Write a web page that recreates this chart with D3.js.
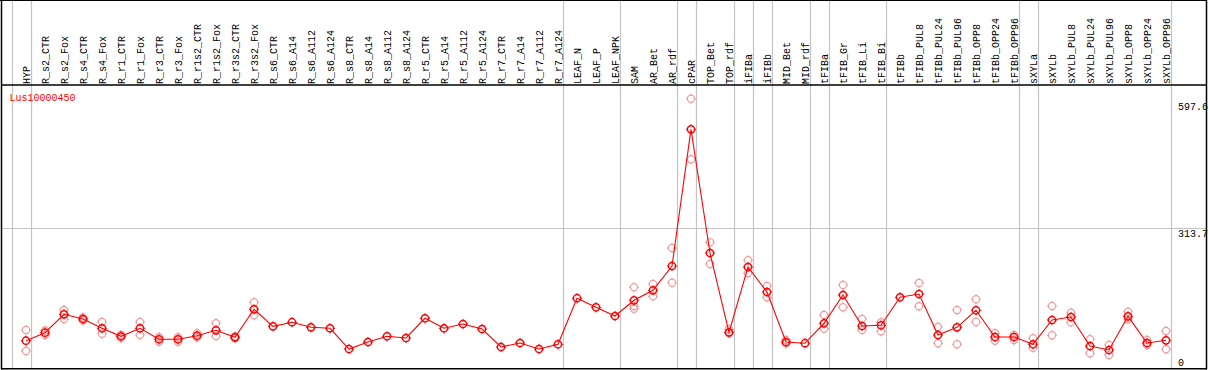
<!DOCTYPE html>
<html>
<head>
<meta charset="utf-8">
<script src="https://cdn.jsdelivr.net/npm/d3@7"></script>
<style>
  html, body { margin: 0; padding: 0; background: #fff; }
  svg { display: block; }
  text { font-family: "Liberation Mono", "DejaVu Sans Mono", monospace; font-size: 10px; }
</style>
</head>
<body>
<svg id="chart" width="1209" height="370"></svg>
<script>
const title = "Lus10000450";
const categories = ["HYP","R_s2_CTR","R_s2_Fox","R_s4_CTR","R_s4_Fox","R_r1_CTR","R_r1_Fox","R_r3_CTR","R_r3_Fox",
  "R_r1s2_CTR","R_r1s2_Fox","R_r3s2_CTR","R_r3s2_Fox","R_s6_CTR","R_s6_A14","R_s6_A112","R_s6_A124",
  "R_s8_CTR","R_s8_A14","R_s8_A112","R_s8_A124","R_r5_CTR","R_r5_A14","R_r5_A112","R_r5_A124",
  "R_r7_CTR","R_r7_A14","R_r7_A112","R_r7_A124","LEAF_N","LEAF_P","LEAF_NPK","SAM","AR_Bet","AR_rdf",
  "cPAR","TOP_Bet","TOP_rdf","iFIBa","iFIBb","MID_Bet","MID_rdf","tFIBa","tFIB_Gr","tFIB_Li","tFIB_Bi",
  "tFIBb","tFIBb_PUL8","tFIBb_PUL24","tFIBb_PUL96","tFIBb_OPP8","tFIBb_OPP24","tFIBb_OPP96",
  "sXYLa","sXYLb","sXYLb_PUL8","sXYLb_PUL24","sXYLb_PUL96","sXYLb_OPP8","sXYLb_OPP24","sXYLb_OPP96"];
const means = [62.2,80.1,121.3,110.8,90.0,72.1,90.0,65.4,65.4,73.4,85.5,69.8,132.5,94.4,103.6,92.2,90.0,
  43.6,59.3,72.1,68.3,112.4,90.0,99.6,88.4,48.1,57.1,43.6,54.2,157.3,137.0,117.5,152.6,175.0,229.4,
  535.3,258.5,81.0,227.2,171.2,59.3,56.6,101.2,164.5,95.1,96.7,159.4,166.7,75.0,92.2,130.3,70.5,70.5,
  54.2,108.5,115.3,50.4,41.4,116.8,57.1,63.1];
const rep1 = [86.2,85.0,130.9,114.1,104.1,75.0,104.1,70.5,69.8,78.8,101.2,72.1,148.2,null,null,null,null,
  null,null,null,null,null,null,null,null,null,null,null,null,null,null,null,181.7,189.1,269.7,
  603.8,282.4,87.7,242.2,184.6,63.8,null,119.7,186.9,110.8,103.4,null,191.4,92.9,130.9,154.9,78.8,75.0,
  67.6,139.9,124.9,65.4,52.6,127.1,63.8,83.9];
const rep2 = [39.2,75.0,110.8,107.4,77.9,68.3,75.0,60.0,60.0,69.4,72.7,67.6,119.1,null,null,null,null,
  null,null,null,null,null,null,null,null,null,null,null,null,null,null,null,139.9,161.6,192.0,
  468.4,233.9,78.8,213.1,159.4,56.0,null,89.1,137.0,86.2,83.3,null,139.2,56.4,54.2,104.1,62.2,63.8,
  46.6,74.3,103.4,34.0,30.2,110.1,52.6,43.0];
const rep3 = categories.map(c => c === "SAM" ? 133.8 : null);
const separatorsAfter = ["HYP","R_r7_A124","LEAF_NPK","AR_rdf","cPAR","TOP_rdf","iFIBa","iFIBb",
  "MID_rdf","tFIBa","tFIB_Bi","tFIBb_OPP96","sXYLa","sXYLb_OPP96"];
const yMax = 597.6;
const yMid = 313.7;

const svg = d3.select("#chart");
const x = d3.scalePoint().domain(categories).range([26, 1166]);
const step = x.step();
const y = d3.scaleLinear().domain([0, yMax]).range([368.5, 101.5]);

// separators (including leading one before the first category)
const sepX = [x(categories[0]) - step + 4.5].concat(separatorsAfter.map(c => x(c) + 4.5));
svg.append("g").selectAll("line").data(sepX).join("line")
  .attr("x1", d => Math.round(d) + 0.5).attr("x2", d => Math.round(d) + 0.5)
  .attr("y1", 0).attr("y2", 369)
  .attr("stroke", "#c4c4c4").attr("stroke-width", 1.2);

// mid gridline
svg.append("line")
  .attr("x1", 1).attr("x2", 1207)
  .attr("y1", Math.round(y(yMid)) + 0.5).attr("y2", Math.round(y(yMid)) + 0.5)
  .attr("stroke", "#c4c4c4").attr("stroke-width", 1.2);

// header labels
svg.append("g").selectAll("text").data(categories).join("text")
  .attr("transform", d => `translate(${x(d) + 3.5},84) rotate(-90)`)
  .attr("fill", "#000")
  .text(d => d);

// y labels
const yLabels = [yMax, yMid, 0];
svg.append("g").selectAll("text").data(yLabels).join("text")
  .attr("x", 1178)
  .attr("y", d => d === 0 ? 365.5 : y(d) + 8.5)
  .attr("fill", "#000")
  .text(d => d === 0 ? "0" : d3.format(".1f")(d));

// marker helper
function marker(g, color, sw) {
  const r = 3.6, t = 1.5;
  g.append("circle").attr("r", r).attr("fill", "none").attr("stroke", color).attr("stroke-width", sw);
  g.append("path")
    .attr("d", `M0,${-r - t}V${-r}M0,${r}V${r + t}M${-r - t},0H${-r}M${r},0H${r + t}`)
    .attr("stroke", color).attr("stroke-width", 1).attr("fill", "none");
}

// replicate points
const reps = [];
[rep1, rep2, rep3].forEach(arr => arr.forEach((v, i) => { if (v != null) reps.push({c: categories[i], v}); }));
svg.append("g").selectAll("g").data(reps).join("g")
  .attr("transform", d => `translate(${x(d.c)},${y(d.v)})`)
  .each(function() { marker(d3.select(this), "#f19c9c", 1.2); });

// mean line
const line = d3.line().x((d, i) => x(categories[i])).y(d => y(d));
svg.append("path").datum(means).attr("d", line)
  .attr("fill", "none").attr("stroke", "#ff0000").attr("stroke-width", 1.1);

// mean points
svg.append("g").selectAll("g").data(means).join("g")
  .attr("transform", (d, i) => `translate(${x(categories[i])},${y(d)})`)
  .each(function() { marker(d3.select(this), "#ff0000", 1.5); });

// frame
svg.append("line").attr("x1", 0).attr("x2", 1207).attr("y1", 0.5).attr("y2", 0.5).attr("stroke", "#000");
svg.append("line").attr("x1", 1).attr("x2", 1207).attr("y1", 85).attr("y2", 85).attr("stroke", "#000").attr("stroke-width", 1.3);
svg.append("line").attr("x1", 1.5).attr("x2", 1.5).attr("y1", 0).attr("y2", 369.5).attr("stroke", "#000").attr("stroke-width", 1.5);
svg.append("line").attr("x1", 1206.5).attr("x2", 1206.5).attr("y1", 0).attr("y2", 369.5).attr("stroke", "#000").attr("stroke-width", 1.5);
svg.append("line").attr("x1", 1).attr("x2", 1207).attr("y1", 368.8).attr("y2", 368.8).attr("stroke", "#000").attr("stroke-width", 1.5);

// title
svg.append("text").attr("x", 9.5).attr("y", 101).attr("fill", "#ff0000").text(title);
</script>
</body>
</html>
